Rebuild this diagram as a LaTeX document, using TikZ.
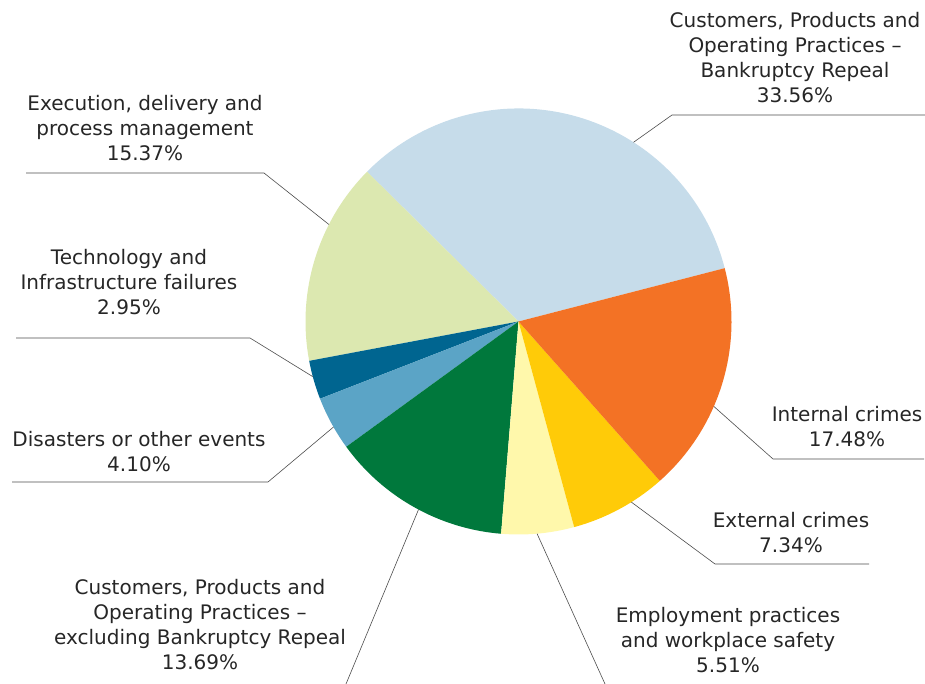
\documentclass[tikz,border=0pt]{standalone}
\usepackage{fontspec}
\setmainfont{DejaVu Sans}
\usetikzlibrary{positioning}
\definecolor{cbrblue}{HTML}{C6DCEA}
\definecolor{execgreen}{HTML}{DCE8B0}
\definecolor{techblue}{HTML}{006590}
\definecolor{disblue}{HTML}{5BA4C6}
\definecolor{cexgreen}{HTML}{00783C}
\definecolor{empyellow}{HTML}{FFF8AB}
\definecolor{extyellow}{HTML}{FFCB08}
\definecolor{intorange}{HTML}{F37225}

\begin{document}
\begin{tikzpicture}[x=1pt,y=1pt]
	\tikzstyle{lbl}=[inner sep=0pt, align=center, anchor=south, text=black!85, font=\fontsize{20}{25}\selectfont]
	\tikzstyle{leader}=[draw=black!70, line width=0.6pt]
	\useasboundingbox (0,0) rectangle (925,684);
	\coordinate (c) at (518.5,362.5);
	% slices, counterclockwise from the big one
	\foreach \a/\b/\col in {14.5/135.316/cbrblue, 135.316/190.648/execgreen, 190.648/201.268/techblue,
		201.268/216.028/disblue, 216.028/265.312/cexgreen, 265.312/285.148/empyellow,
		285.148/311.572/extyellow, 311.572/374.5/intorange}
		\fill[\col] (c) -- ++(\a:213pt) arc[start angle=\a, end angle=\b, radius=213pt] -- cycle;
	
	\node[lbl] (cbr) at (795,581) {Customers, Products and\\Operating Practices –\\Bankruptcy Repeal\\33.56\%};
	\node[lbl] (exec) at (145,523) {Execution, delivery and\\process management\\15.37\%};
	\node[lbl] (tech) at (129,369) {Technology and\\Infrastructure failures\\2.95\%};
	\node[lbl] (dis) at (139,212) {Disasters or other events\\4.10\%};
	\node[lbl] (cex) at (200,14) {Customers, Products and\\Operating Practices –\\excluding Bankruptcy Repeal\\13.69\%};
	\node[lbl] (emp) at (728,11) {Employment practices\\and workplace safety\\5.51\%};
	\node[lbl] (int) at (847,237) {Internal crimes\\17.48\%};
	\node[lbl] (ext) at (791,131) {External crimes\\7.34\%};
	
	\path (c) ++(57.3:213pt) coordinate (cbr-p)
	      (c) ++(152.9:213pt) coordinate (exec-p)
	      (c) ++(195:213pt) coordinate (tech-p)
	      (c) ++(209.7:213pt) coordinate (dis-p)
	      (c) ++(242:213pt) coordinate (cex-p)
	      (c) ++(275:213pt) coordinate (emp-p)
	      (c) ++(302:213pt) coordinate (ext-p)
	      (c) ++(336.5:213pt) coordinate (int-p);
	\coordinate (cbr-e) at (672,569);  \coordinate (cbr-r) at (925,569);
	\coordinate (exec-e) at (264,511); \coordinate (exec-r) at (26,511);
	\coordinate (tech-e) at (250,346); \coordinate (tech-r) at (16,346);
	\coordinate (dis-e) at (268,202);  \coordinate (dis-r) at (12,202);
	\coordinate (cex-e) at (346,0);
	\coordinate (emp-e) at (605,0);
	\coordinate (int-e) at (773,225);  \coordinate (int-r) at (924,225);
	\coordinate (ext-e) at (715,120);  \coordinate (ext-r) at (869,120);
	
	\draw[leader] (cbr-p) -- (cbr-e) -- (cbr-r);
	\draw[leader] (exec-p) -- (exec-e) -- (exec-r);
	\draw[leader] (tech-p) -- (tech-e) -- (tech-r);
	\draw[leader] (dis-p) -- (dis-e) -- (dis-r);
	\draw[leader] (cex-p) -- (cex-e);
	\draw[leader] (emp-p) -- (emp-e);
	\draw[leader] (int-p) -- (int-e) -- (int-r);
	\draw[leader] (ext-p) -- (ext-e) -- (ext-r);
\end{tikzpicture}
\end{document}
